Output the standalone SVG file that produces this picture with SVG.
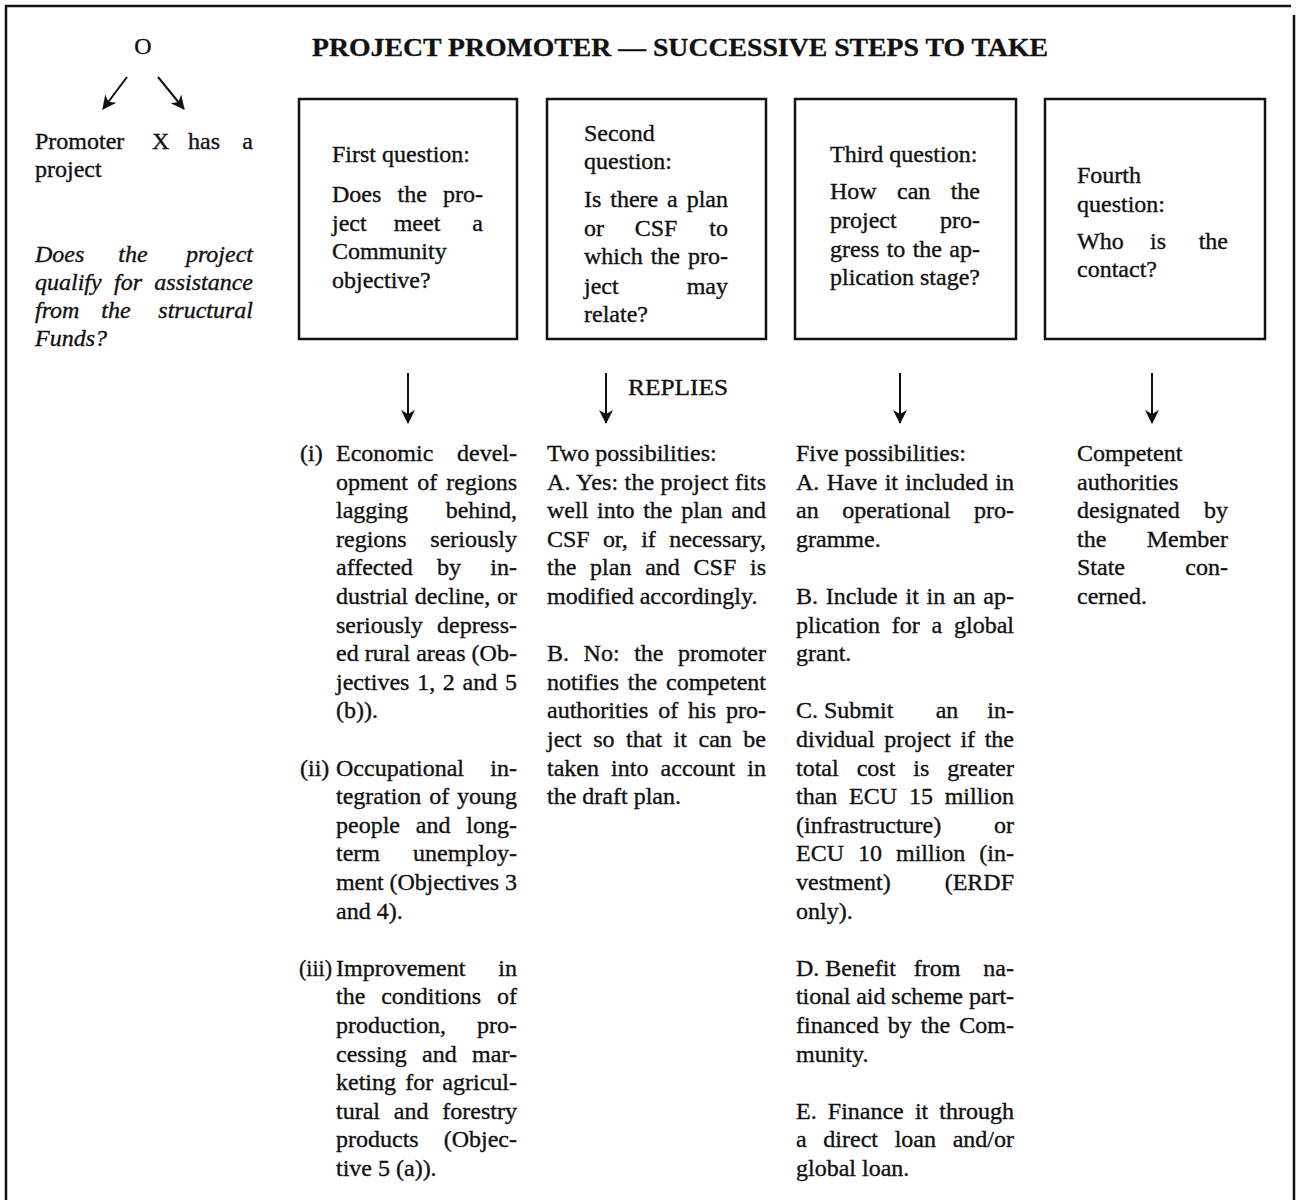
<svg xmlns="http://www.w3.org/2000/svg" width="1300" height="1200" viewBox="0 0 1300 1200">
<style>
text{font-family:"Liberation Serif","Times New Roman",serif;font-size:24px;fill:#111;stroke:#111;stroke-width:0.35}
.i{font-style:italic}
.e{text-anchor:end}
.m{text-anchor:middle}
.title{font-weight:bold;font-size:26px;stroke-width:0.3}
.box{fill:#fff;stroke:#111;stroke-width:2.5}
.frame{fill:none;stroke:#111;stroke-width:2.5}
.arr{fill:none;stroke:#111;stroke-width:2;marker-end:url(#ah)}
</style>
<defs>
<marker id="ah" viewBox="0 0 14 14" refX="13" refY="7" markerWidth="14" markerHeight="14" markerUnits="userSpaceOnUse" orient="auto">
<path d="M0,0 L14,7 L0,14 L4,7 z" fill="#111"/>
</marker>
</defs>
<rect width="1300" height="1200" fill="#fff"/>
<g id="frame">
<path class="frame" d="M6,1200 V6 H1291"/>
<path class="frame" d="M1294,15 V1200"/>
</g>
<g id="title"><text class="title" x="312" y="56" textLength="736" lengthAdjust="spacingAndGlyphs">PROJECT PROMOTER — SUCCESSIVE STEPS TO TAKE</text></g>

<g id="origin">
<text class="m" x="143" y="54">O</text>
</g>
<g id="promoter">
<text x="35" y="149">Promoter</text><text x="152" y="149">X</text><text x="188" y="149">has</text><text class="e" x="253" y="149">a</text>
<text x="35" y="177">project</text>
</g>
<g id="qualify">
<text class="i" x="35" y="262">Does</text><text class="i m" x="133" y="262">the</text><text class="i e" x="253" y="262">project</text>
<text class="i" x="35" y="290" style="word-spacing:6.3px" textLength="218" lengthAdjust="spacing">qualify for assistance</text>
<text class="i" x="35" y="318">from</text><text class="i m" x="116" y="318">the</text><text class="i e" x="253" y="318">structural</text>
<text class="i" x="35" y="346">Funds?</text>
</g>

<g id="q1">
<rect class="box" x="299" y="99" width="218" height="240"/>
<text x="332" y="162">First question:</text>
<text x="332" y="202" style="word-spacing:10.2px" textLength="151" lengthAdjust="spacing">Does the pro-</text>
<text x="332" y="231">ject</text><text class="m" x="417" y="231">meet</text><text class="e" x="483" y="231">a</text>
<text x="332" y="259">Community</text>
<text x="332" y="288">objective?</text>
</g>
<g id="q2">
<rect class="box" x="547" y="99" width="219" height="240"/>
<text x="584" y="141">Second</text>
<text x="584" y="169">question:</text>
<text x="584" y="207" style="word-spacing:2.9px" textLength="144" lengthAdjust="spacing">Is there a plan</text>
<text x="584" y="236">or</text><text class="m" x="656" y="236">CSF</text><text class="e" x="728" y="236">to</text>
<text x="584" y="264" style="word-spacing:2px" textLength="144" lengthAdjust="spacing">which the pro-</text>
<text x="584" y="294">ject</text><text class="e" x="728" y="294">may</text>
<text x="584" y="322">relate?</text>
</g>
<g id="q3">
<rect class="box" x="795" y="99" width="221" height="240"/>
<text x="830" y="162">Third question:</text>
<text x="830" y="199" style="word-spacing:14.3px" textLength="150" lengthAdjust="spacing">How can the</text>
<text x="830" y="228">project</text><text class="e" x="980" y="228">pro-</text>
<text x="830" y="257" style="word-spacing:1.3px" textLength="150" lengthAdjust="spacing">gress to the ap-</text>
<text x="830" y="285">plication stage?</text>
</g>
<g id="q4">
<rect class="box" x="1045" y="99" width="220" height="240"/>
<text x="1077" y="183">Fourth</text>
<text x="1077" y="212">question:</text>
<text x="1077" y="249">Who</text><text class="m" x="1158" y="249">is</text><text class="e" x="1228" y="249">the</text>
<text x="1077" y="277">contact?</text>
</g>

<g id="connectors">
<path class="arr" d="M127,77 L103,109"/>
<path class="arr" d="M158,77 L184,109"/>
<path class="arr" d="M408,373 V423"/>
<path class="arr" d="M606,373 V423"/>
<path class="arr" d="M900,373 V423"/>
<path class="arr" d="M1152,373 V423"/>
<text x="628" y="395" textLength="100" lengthAdjust="spacingAndGlyphs">REPLIES</text>
</g>

<g id="a1">
<text x="300" y="461">(i)</text>
<text x="336" y="461">Economic</text><text class="e" x="517" y="461">devel-</text>
<text x="336" y="489.6" style="word-spacing:3.2px" textLength="181" lengthAdjust="spacing">opment of regions</text>
<text x="336" y="518.2">lagging</text><text class="e" x="517" y="518.2">behind,</text>
<text x="336" y="546.8">regions</text><text class="e" x="517" y="546.8">seriously</text>
<text x="336" y="575.4">affected</text><text class="m" x="449" y="575.4">by</text><text class="e" x="517" y="575.4">in-</text>
<text x="336" y="604" style="word-spacing:0.8px" textLength="181" lengthAdjust="spacing">dustrial decline, or</text>
<text x="336" y="632.6">seriously</text><text class="e" x="517" y="632.6">depress-</text>
<text x="336" y="661.2" textLength="181" lengthAdjust="spacing">ed rural areas (Ob-</text>
<text x="336" y="689.8" style="word-spacing:1.7px" textLength="181" lengthAdjust="spacing">jectives 1, 2 and 5</text>
<text x="336" y="718.4">(b)).</text>
<text x="300" y="775.6">(ii)</text>
<text x="336" y="775.6">Occupational</text><text class="e" x="517" y="775.6">in-</text>
<text x="336" y="804.2" style="word-spacing:1.8px" textLength="181" lengthAdjust="spacing">tegration of young</text>
<text x="336" y="832.8" style="word-spacing:9.8px" textLength="181" lengthAdjust="spacing">people and long-</text>
<text x="336" y="861.4">term</text><text class="e" x="517" y="861.4">unemploy-</text>
<text x="336" y="890" textLength="181" lengthAdjust="spacing">ment (Objectives 3</text>
<text x="336" y="918.6">and 4).</text>
<text x="299" y="975.8" textLength="33" lengthAdjust="spacingAndGlyphs">(iii)</text>
<text x="336" y="975.8">Improvement</text><text class="e" x="517" y="975.8">in</text>
<text x="336" y="1004.4" style="word-spacing:9.8px" textLength="181" lengthAdjust="spacing">the conditions of</text>
<text x="336" y="1033">production,</text><text class="e" x="517" y="1033">pro-</text>
<text x="336" y="1061.6" style="word-spacing:9.2px" textLength="181" lengthAdjust="spacing">cessing and mar-</text>
<text x="336" y="1090.2" style="word-spacing:3.2px" textLength="181" lengthAdjust="spacing">keting for agricul-</text>
<text x="336" y="1118.8" style="word-spacing:7.8px" textLength="181" lengthAdjust="spacing">tural and forestry</text>
<text x="336" y="1147.4">products</text><text class="e" x="517" y="1147.4">(Objec-</text>
<text x="336" y="1176">tive 5 (a)).</text>
</g>

<g id="a2">
<text x="547" y="461">Two possibilities:</text>
<text x="547" y="489.6" textLength="219" lengthAdjust="spacing">A. Yes: the project fits</text>
<text x="547" y="518.2" style="word-spacing:2.7px" textLength="219" lengthAdjust="spacing">well into the plan and</text>
<text x="547" y="546.8" style="word-spacing:7.7px" textLength="219" lengthAdjust="spacing">CSF or, if necessary,</text>
<text x="547" y="575.4" style="word-spacing:7.7px" textLength="219" lengthAdjust="spacing">the plan and CSF is</text>
<text x="547" y="604">modified accordingly.</text>
<text x="547" y="661.2" style="word-spacing:8.6px" textLength="219" lengthAdjust="spacing">B. No: the promoter</text>
<text x="547" y="689.8" style="word-spacing:2.8px" textLength="219" lengthAdjust="spacing">notifies the competent</text>
<text x="547" y="718.4" style="word-spacing:3.9px" textLength="219" lengthAdjust="spacing">authorities of his pro-</text>
<text x="547" y="747" style="word-spacing:5.5px" textLength="219" lengthAdjust="spacing">ject so that it can be</text>
<text x="547" y="775.6" style="word-spacing:6.1px" textLength="219" lengthAdjust="spacing">taken into account in</text>
<text x="547" y="804.2">the draft plan.</text>
</g>

<g id="a3">
<text x="796" y="461">Five possibilities:</text>
<text x="796" y="489.6" style="word-spacing:1.3px" textLength="218" lengthAdjust="spacing">A. Have it included in</text>
<text x="796" y="518.2" style="word-spacing:17.7px" textLength="218" lengthAdjust="spacing">an operational pro-</text>
<text x="796" y="546.8">gramme.</text>
<text x="796" y="604" style="word-spacing:1.7px" textLength="218" lengthAdjust="spacing">B. Include it in an ap-</text>
<text x="796" y="632.6" style="word-spacing:5.8px" textLength="218" lengthAdjust="spacing">plication for a global</text>
<text x="796" y="661.2">grant.</text>
<text x="796" y="718.4">C. Submit</text><text class="m" x="947" y="718.4">an</text><text class="e" x="1014" y="718.4">in-</text>
<text x="796" y="747" style="word-spacing:3.6px" textLength="218" lengthAdjust="spacing">dividual project if the</text>
<text x="796" y="775.6" style="word-spacing:12px" textLength="218" lengthAdjust="spacing">total cost is greater</text>
<text x="796" y="804.2" style="word-spacing:5.8px" textLength="218" lengthAdjust="spacing">than ECU 15 million</text>
<text x="796" y="832.8">(infrastructure)</text><text class="e" x="1014" y="832.8">or</text>
<text x="796" y="861.4" style="word-spacing:8px" textLength="218" lengthAdjust="spacing">ECU 10 million (in-</text>
<text x="796" y="890">vestment)</text><text class="e" x="1014" y="890">(ERDF</text>
<text x="796" y="918.6">only).</text>
<text x="796" y="975.8">D. Benefit</text><text class="m" x="937" y="975.8">from</text><text class="e" x="1014" y="975.8">na-</text>
<text x="796" y="1004.4" textLength="218" lengthAdjust="spacing">tional aid scheme part-</text>
<text x="796" y="1033" style="word-spacing:3.1px" textLength="218" lengthAdjust="spacing">financed by the Com-</text>
<text x="796" y="1061.6">munity.</text>
<text x="796" y="1118.8" style="word-spacing:5.1px" textLength="218" lengthAdjust="spacing">E. Finance it through</text>
<text x="796" y="1147.4" style="word-spacing:10.7px" textLength="218" lengthAdjust="spacing">a direct loan and/or</text>
<text x="796" y="1176">global loan.</text>
</g>

<g id="a4">
<text x="1077" y="461">Competent</text>
<text x="1077" y="489.6">authorities</text>
<text x="1077" y="518.2">designated</text><text class="e" x="1228" y="518.2">by</text>
<text x="1077" y="546.8">the</text><text class="e" x="1228" y="546.8">Member</text>
<text x="1077" y="575.4">State</text><text class="e" x="1228" y="575.4">con-</text>
<text x="1077" y="604">cerned.</text>
</g>
</svg>
